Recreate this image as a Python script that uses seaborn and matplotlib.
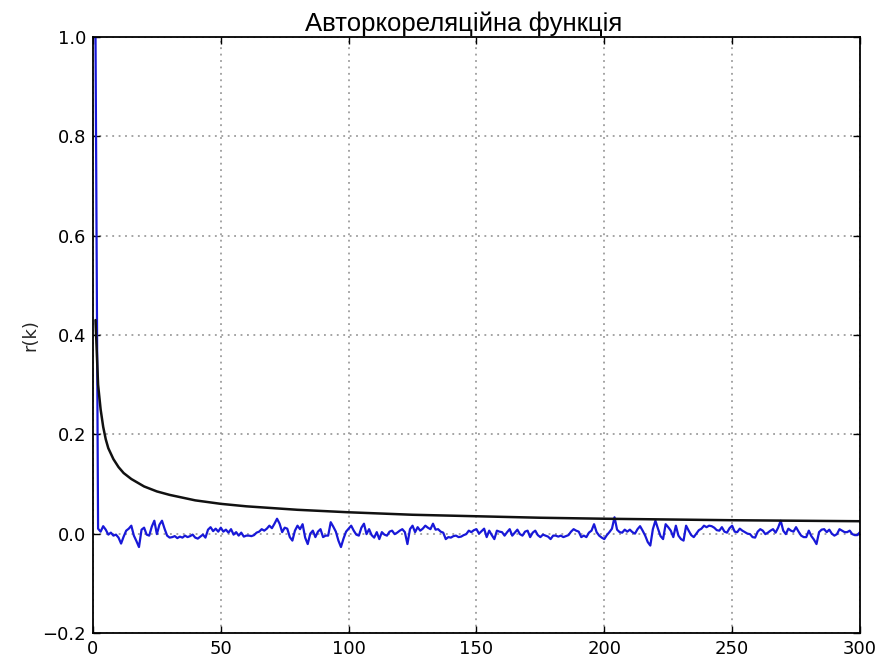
import numpy as np
import pandas as pd
import matplotlib
matplotlib.use("Agg")
import matplotlib.pyplot as plt
import seaborn as sns

# Sample autocorrelation r(k), lags 1..300
lags = list(range(1, 301))
acf = [
    1.0, 0.010, 0.004, 0.015, 0.008, -0.002, 0.002, -0.004, -0.002, -0.008,
    -0.020, -0.006, 0.006, 0.010, 0.016, -0.004, -0.015, -0.027, 0.008, 0.012,
    -0.002, -0.004, 0.014, 0.026, -0.001, 0.018, 0.026, 0.010, -0.004, -0.008,
    -0.007, -0.005, -0.009, -0.006, -0.008, -0.004, -0.007, -0.005, -0.002, -0.008,
    -0.010, -0.006, -0.002, -0.008, 0.008, 0.013, 0.005, 0.010, 0.004, 0.012,
    0.004, 0.008, 0.002, 0.009, -0.002, 0.003, -0.004, 0.002, -0.006, -0.004,
    -0.004, -0.005, -0.003, 0.002, 0.004, 0.009, 0.006, 0.010, 0.016, 0.011,
    0.020, 0.030, 0.020, 0.003, 0.012, 0.010, -0.007, -0.014, 0.006, 0.016,
    0.009, 0.019, -0.008, -0.021, 0.000, 0.006, -0.007, 0.004, 0.009, -0.007,
    -0.004, -0.004, 0.023, 0.014, 0.004, -0.014, -0.027, -0.010, 0.004, 0.010,
    0.016, 0.006, -0.002, -0.004, 0.012, 0.020, -0.001, 0.009, -0.003, -0.008,
    0.003, -0.011, 0.003, -0.002, -0.004, 0.004, 0.006, -0.001, 0.002, 0.006,
    0.009, 0.003, -0.021, 0.009, 0.016, 0.003, 0.013, 0.006, 0.010, 0.016,
    0.012, 0.009, 0.020, 0.008, 0.009, 0.004, 0.002, -0.011, -0.007, -0.008,
    -0.005, -0.004, -0.007, -0.006, -0.003, -0.001, 0.006, 0.003, 0.007, 0.009,
    0.000, 0.005, 0.010, -0.007, 0.006, -0.003, -0.011, 0.006, 0.004, 0.003,
    -0.004, 0.003, 0.009, -0.004, 0.002, 0.008, -0.001, -0.004, 0.004, 0.006,
    -0.007, 0.002, 0.006, -0.003, -0.007, -0.002, -0.004, -0.006, -0.011, -0.004,
    -0.004, -0.006, -0.004, -0.007, -0.005, -0.003, 0.004, 0.009, 0.006, 0.004,
    -0.007, -0.004, -0.007, 0.002, 0.006, 0.019, 0.003, -0.004, -0.008, -0.011,
    -0.003, 0.003, 0.010, 0.033, 0.008, 0.003, 0.002, 0.008, 0.004, 0.008,
    0.003, 0.000, 0.009, 0.015, 0.006, -0.004, -0.017, -0.024, 0.009, 0.026,
    0.010, -0.005, -0.011, 0.019, 0.013, 0.006, -0.007, 0.016, -0.004, -0.011,
    -0.014, 0.016, 0.006, -0.003, -0.007, 0.000, 0.007, 0.010, 0.016, 0.013,
    0.016, 0.015, 0.012, 0.007, 0.006, 0.013, 0.004, 0.002, 0.011, 0.016,
    0.004, 0.003, 0.010, 0.006, 0.003, 0.000, -0.001, -0.007, -0.008, 0.004,
    0.009, 0.006, -0.001, 0.002, 0.006, 0.009, 0.002, 0.012, 0.026, 0.006,
    -0.001, 0.010, 0.006, 0.004, 0.013, 0.004, -0.004, -0.007, -0.007, 0.006,
    -0.005, -0.012, -0.021, 0.003, 0.008, 0.009, 0.003, 0.008, 0.000, -0.004,
    -0.001, 0.009, 0.006, 0.003, 0.003, 0.006, -0.001, -0.003, -0.003, 0.003,
]

# Envelope curve sampled at selected lags
env_lags = [1, 2, 3, 4, 5, 6, 8, 10, 12, 15, 20, 25, 30, 40, 50, 60, 80,
            100, 125, 150, 175, 200, 250, 300]
env_vals = [0.43, 0.30, 0.25, 0.215, 0.19, 0.172, 0.150, 0.134, 0.122, 0.110,
            0.095, 0.085, 0.078, 0.067, 0.060, 0.055, 0.048, 0.043, 0.038,
            0.035, 0.032, 0.030, 0.027, 0.025]

x_ticks = [0, 50, 100, 150, 200, 250, 300]
y_ticks = [-0.2, 0.0, 0.2, 0.4, 0.6, 0.8, 1.0]

acf_df = pd.DataFrame({"k": lags, "r": acf})
env_df = pd.DataFrame({"k": env_lags, "r": env_vals})

sns.set_style("white")
plt.rcParams["font.family"] = ["DejaVu Sans"]

fig = plt.figure(figsize=(8.82, 6.59), dpi=100)
ax = fig.add_axes([0.1054, 0.0395, 0.8696, 0.9044])

sns.lineplot(data=acf_df, x="k", y="r", ax=ax, color="#1818d8", lw=1.6)
sns.lineplot(data=env_df, x="k", y="r", ax=ax, color="#111111", lw=1.8)

ax.set_xlim(0, 300)
ax.set_ylim(-0.2, 1.0)
ax.set_xticks(x_ticks)
ax.set_yticks(y_ticks)
ax.set_xticklabels([str(t) for t in x_ticks])
ax.set_yticklabels(["\u22120.2", "0.0", "0.2", "0.4", "0.6", "0.8", "1.0"])
ax.tick_params(direction="in", length=5, width=1, labelsize=13,
               top=True, right=True, bottom=True, left=True, pad=5,
               colors="black")
ax.grid(True, linestyle=(0, (1.2, 3)), color="#8c8c8c", linewidth=1.1)
for s in ax.spines.values():
    s.set_color("black")
    s.set_linewidth(1.3)

ax.set_xlabel("")
ax.set_ylabel("r(k)", fontsize=13, labelpad=2)
ax.set_title("Авторкореляційна функція", fontsize=18.5, color="black",
             family=["Liberation Sans", "DejaVu Sans"], pad=4, x=0.483)

fig.savefig("out.png", dpi=100)
